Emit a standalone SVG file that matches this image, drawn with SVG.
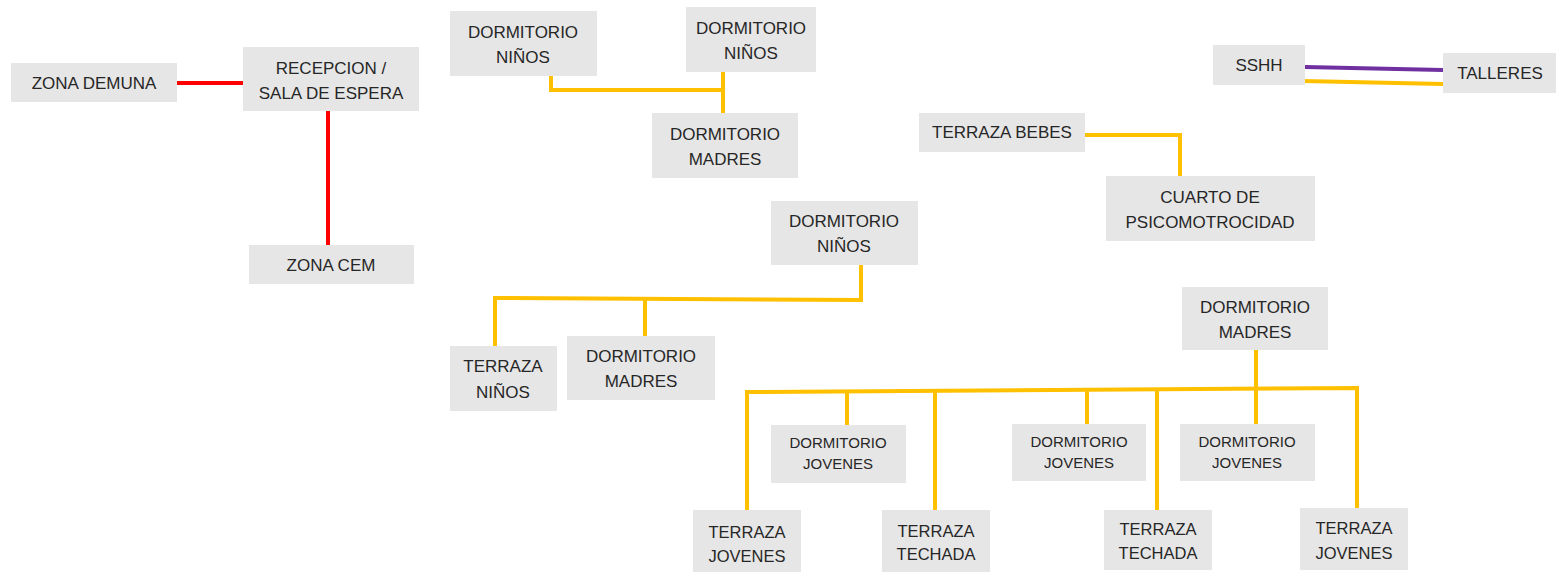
<svg xmlns="http://www.w3.org/2000/svg" width="1564" height="573" viewBox="0 0 1564 573">
<style>
.box{fill:#e6e6e6}
text{font-family:"Liberation Sans",Arial,sans-serif;font-size:17px;fill:#262626;text-anchor:middle}
.sm{font-size:15px}
.md{font-size:16.5px}
.red{stroke:#ff0000;stroke-width:4;fill:none}
.yel{stroke:#ffc000;stroke-width:4;fill:none}
.pur{stroke:#7030a0;stroke-width:4;fill:none}
</style>
<rect width="1564" height="573" fill="#ffffff"/>
<g id="connectors">
<path class="red" d="M177 83H243"/>
<path class="red" d="M328 111V245"/>
<path class="yel" d="M551 76V90H723"/>
<path class="yel" d="M723 72V113"/>
<path class="pur" d="M1305 67L1443 70"/>
<path class="yel" d="M1303 81L1443 84"/>
<path class="yel" d="M1085 135H1180V176"/>
<path class="yel" d="M861 265V300L495 298V346"/>
<path class="yel" d="M645 299V336"/>
<path class="yel" d="M1256 350V424"/>
<path class="yel" d="M747 510V392L1357 388V508"/>
<path class="yel" d="M847 392V425"/>
<path class="yel" d="M935 391V510"/>
<path class="yel" d="M1087 390V424"/>
<path class="yel" d="M1157 390V510"/>
</g>
<g id="zona-demuna"><rect class="box" x="11" y="63" width="166" height="39"/><text x="94" y="89">ZONA DEMUNA</text></g>
<g id="recepcion"><rect class="box" x="243" y="47" width="176" height="64"/><text x="331" y="74">RECEPCION /</text><text x="331" y="99">SALA DE ESPERA</text></g>
<g id="zona-cem"><rect class="box" x="249" y="245" width="165" height="39"/><text x="331" y="271">ZONA CEM</text></g>
<g id="dorm-ninos-1"><rect class="box" x="450" y="11" width="147" height="65"/><text x="523" y="38">DORMITORIO</text><text x="523" y="63">NIÑOS</text></g>
<g id="dorm-ninos-2"><rect class="box" x="686" y="7" width="130" height="65"/><text x="751" y="34">DORMITORIO</text><text x="751" y="59">NIÑOS</text></g>
<g id="dorm-madres-1"><rect class="box" x="652" y="113" width="146" height="65"/><text x="725" y="140">DORMITORIO</text><text x="725" y="165">MADRES</text></g>
<g id="sshh"><rect class="box" x="1213" y="45" width="92" height="40"/><text x="1259" y="71">SSHH</text></g>
<g id="talleres"><rect class="box" x="1443" y="53" width="113" height="40"/><text x="1500" y="79">TALLERES</text></g>
<g id="terraza-bebes"><rect class="box" x="919" y="113" width="166" height="39"/><text x="1002" y="138">TERRAZA BEBES</text></g>
<g id="cuarto-psicomotrocidad"><rect class="box" x="1106" y="176" width="209" height="65"/><text x="1210" y="203">CUARTO DE</text><text x="1210" y="228">PSICOMOTROCIDAD</text></g>
<g id="dorm-ninos-3"><rect class="box" x="771" y="201" width="147" height="64"/><text x="844" y="227">DORMITORIO</text><text x="844" y="252">NIÑOS</text></g>
<g id="terraza-ninos"><rect class="box" x="450" y="346" width="107" height="65"/><text x="503" y="372">TERRAZA</text><text x="503" y="398">NIÑOS</text></g>
<g id="dorm-madres-2"><rect class="box" x="567" y="336" width="148" height="64"/><text x="641" y="362">DORMITORIO</text><text x="641" y="387">MADRES</text></g>
<g id="dorm-madres-3"><rect class="box" x="1182" y="287" width="146" height="63"/><text x="1255" y="313">DORMITORIO</text><text x="1255" y="338">MADRES</text></g>
<g id="dorm-jovenes-1"><rect class="box" x="771" y="425" width="135" height="58"/><text class="sm" x="838" y="448">DORMITORIO</text><text class="sm" x="838" y="469">JOVENES</text></g>
<g id="dorm-jovenes-2"><rect class="box" x="1012" y="424" width="134" height="57"/><text class="sm" x="1079" y="447">DORMITORIO</text><text class="sm" x="1079" y="468">JOVENES</text></g>
<g id="dorm-jovenes-3"><rect class="box" x="1180" y="424" width="135" height="57"/><text class="sm" x="1247" y="447">DORMITORIO</text><text class="sm" x="1247" y="468">JOVENES</text></g>
<g id="terraza-jovenes-1"><rect class="box" x="693" y="510" width="108" height="62"/><text class="md" x="747" y="538">TERRAZA</text><text class="md" x="747" y="562">JOVENES</text></g>
<g id="terraza-techada-1"><rect class="box" x="882" y="510" width="108" height="62"/><text class="md" x="936" y="537">TERRAZA</text><text class="md" x="936" y="560">TECHADA</text></g>
<g id="terraza-techada-2"><rect class="box" x="1104" y="510" width="108" height="60"/><text class="md" x="1158" y="535">TERRAZA</text><text class="md" x="1158" y="559">TECHADA</text></g>
<g id="terraza-jovenes-2"><rect class="box" x="1300" y="508" width="108" height="62"/><text class="md" x="1354" y="534">TERRAZA</text><text class="md" x="1354" y="559">JOVENES</text></g>
</svg>
